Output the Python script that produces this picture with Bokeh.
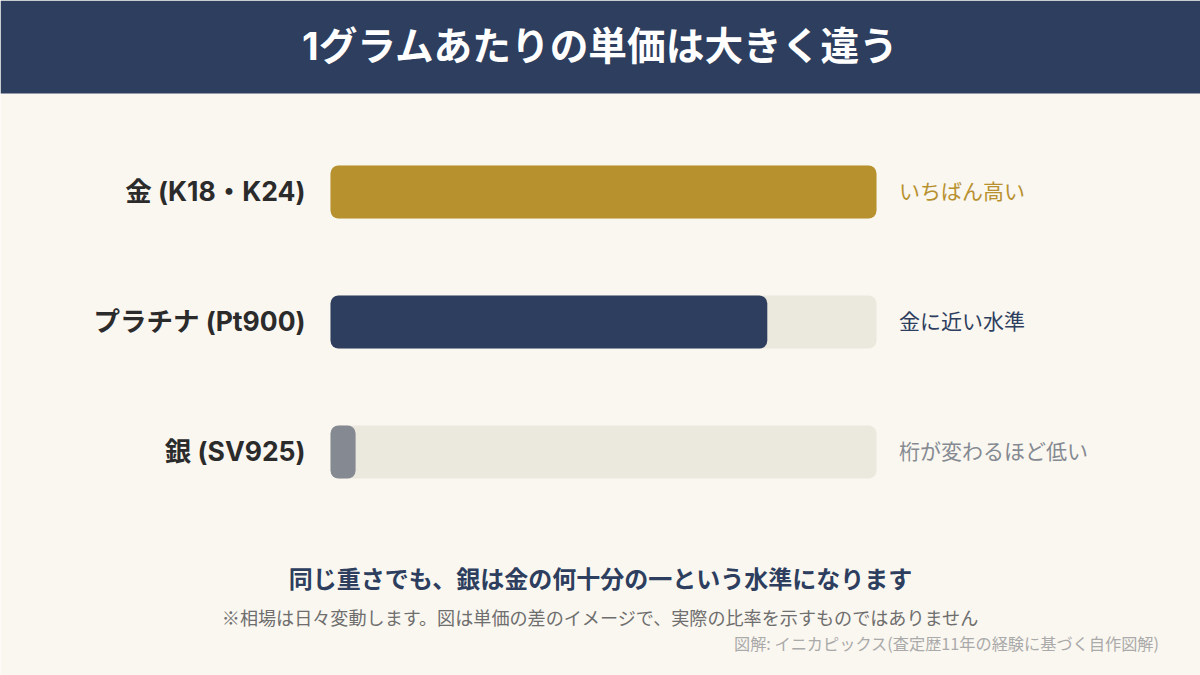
from bokeh.plotting import figure
from bokeh.models import Label, BoxAnnotation, ColumnDataSource
from bokeh.core.properties import value
from bokeh.embed import file_html
from bokeh.resources import INLINE

# --- data -------------------------------------------------------------
categories = ["金 (K18・K24)", "プラチナ (Pt900)", "銀 (SV925)"]
values = [100, 80, 4.6]
track_max = [100, 100, 100]
notes = ["いちばん高い", "金に近い水準", "桁が変わるほど低い"]
bar_colors = ["#B8912F", "#2D3E5E", "#858A92"]
title_text = "1グラムあたりの単価は大きく違う"
headline_text = "同じ重さでも、銀は金の何十分の一という水準になります"
footnote_text = "※相場は日々変動します。図は単価の差のイメージで、実際の比率を示すものではありません"
credit_text = "図解: イニカピックス(査定歴11年の経験に基づく自作図解)"

# --- layout -----------------------------------------------------------
W, H = 1200, 675
BG = "#FAF7F0"
NAVY = "#2D3E5E"
FONT = "Inter, 'Noto Sans CJK JP', sans-serif"
CJK = "'Noto Sans CJK JP', sans-serif"

PX_PER_UNIT = 5.46
BAR_LEFT = 330
ROW_TOP = 191.5
ROW_GAP = 130

p = figure(
    width=W, height=H, output_backend="svg", toolbar_location=None,
    x_range=(-BAR_LEFT / PX_PER_UNIT, (W - BAR_LEFT) / PX_PER_UNIT),
    y_range=((H - ROW_TOP) / ROW_GAP, -ROW_TOP / ROW_GAP),
    min_border=0, background_fill_color=BG, border_fill_color=BG, outline_line_color=None,
)
p.xaxis.visible = False
p.yaxis.visible = False
p.grid.visible = False

rows = list(range(len(categories)))
src = ColumnDataSource(dict(
    y=rows, value=values, track=track_max, color=bar_colors, cat=categories, note=notes,
    note_color=["#B8912F", "#2D3E5E", "#858A92"],
))

BAR_H = 53 / ROW_GAP
p.hbar(y="y", left=0, right="track", height=BAR_H, source=src,
       fill_color="#EBE8DE", line_color=None, border_radius=8)
p.hbar(y="y", left=0, right="value", height=BAR_H, source=src,
       fill_color="color", line_color=None, border_radius=8)

p.text(x=0, y="y", text="cat", source=src, x_offset=-25, y_offset=-1,
       text_align="right", text_baseline="middle",
       text_font=value(FONT), text_font_style="bold", text_font_size="26.5px",
       text_color="#2B2B2B")
p.text(x="track", y="y", text="note", source=src, x_offset=22.5, y_offset=-2,
       text_align="left", text_baseline="middle",
       text_font=value(CJK), text_font_size="21px", text_color="note_color")

# Header band
p.add_layout(BoxAnnotation(left=0, right=W, top=H, bottom=H - 93,
                           left_units="screen", right_units="screen",
                           top_units="screen", bottom_units="screen",
                           fill_color=NAVY, fill_alpha=1, line_color=None))


def put(text, page_x, page_y, size, color, align="center", bold=False, font=CJK):
    p.add_layout(Label(
        x=page_x, y=H - page_y, x_units="screen", y_units="screen",
        text=text, text_align=align, text_baseline="middle",
        text_font=font, text_font_size=f"{size}px",
        text_font_style="bold" if bold else "normal", text_color=color,
    ))


put(title_text, 600, 45, 38.7, "#FFFFFF", bold=True, font=FONT)
put(headline_text, 600, 577, 24, NAVY, bold=True)
put(footnote_text, 600, 616, 18.1, "#6E6E6E")
put(credit_text, 1159, 642, 16.2, "#AAAAAA", align="right")

open("out.html", "w").write(file_html(p, INLINE))
